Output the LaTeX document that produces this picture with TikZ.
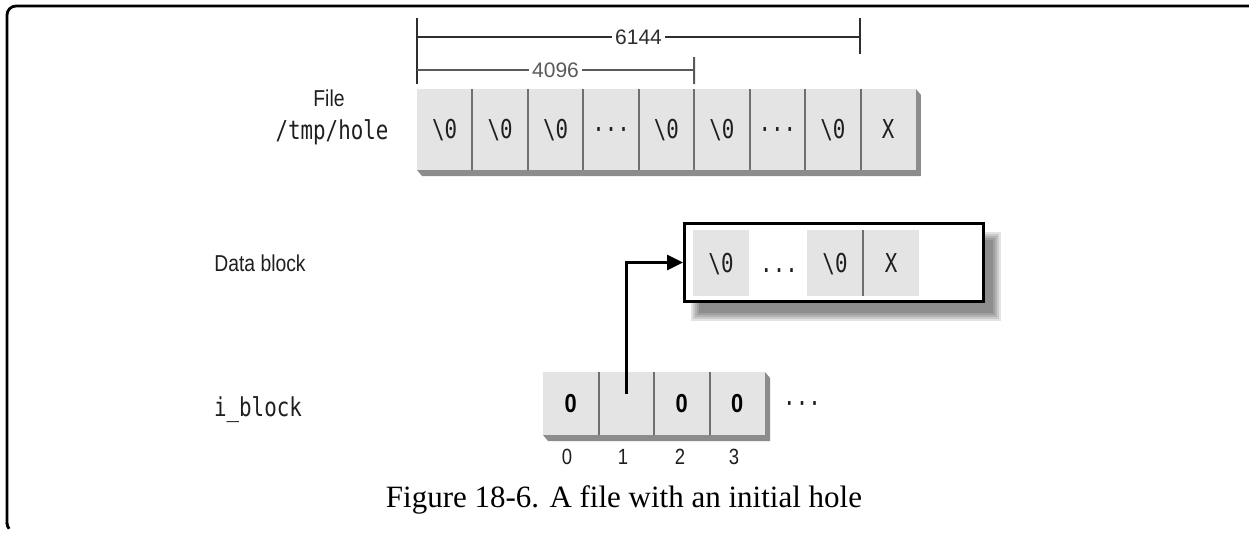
\documentclass[tikz,border=0pt]{standalone}
\usepackage{fontspec}
\setmainfont{Liberation Serif}
\newfontfamily\condf[FakeStretch=0.84]{Liberation Sans}
\newfontfamily\digf{Liberation Sans}
\newfontfamily\monof[FakeStretch=0.8]{DejaVu Sans Mono}
\usetikzlibrary{arrows.meta,calc}
\definecolor{cellgray}{HTML}{E4E4E4}
\definecolor{shadegray}{HTML}{8C8C8C}
\definecolor{divgray}{HTML}{707070}
\definecolor{dimdark}{HTML}{2E2E2E}
\definecolor{dimmid}{HTML}{5A5A5A}
\pgfdeclarelayer{bg}
\pgfsetlayers{bg,main}
\newcommand\cellshadow[2]{%
  \begin{pgfonlayer}{bg}
  \fill[shadegray] (#1.south west) -- ++(5,6) -| ($(#2.north east)+(5,6)$) -- (#2.north east) -- cycle;
  \end{pgfonlayer}}
\begin{document}
\begin{tikzpicture}[x=1pt,y=-1pt,
  monotext/.style={font=\monof\fontsize{26}{26}\selectfont, text=black!88, text height=19pt, text depth=1pt},
  cellbox/.style={monotext, fill=cellgray, minimum width=55.44pt, minimum height=81pt, inner sep=0pt, outer sep=0pt},
  dcell/.style={cellbox, minimum width=56pt, minimum height=66pt},
  icell/.style={cellbox, minimum width=55.5pt, minimum height=63pt, font=\condf\bfseries\fontsize{26}{26}\selectfont, text=black},
  divider/.style={draw=divgray, line width=2pt},
  dimline/.style={draw=dimdark, line width=2pt},
  dimlabel/.style={fill=white, inner sep=3pt, font=\digf\fontsize{21}{21}\selectfont, text=dimdark},
  sidelabel/.style={font=\condf\fontsize{23}{23}\selectfont, text=black!88},
  idxlabel/.style={font=\condf\fontsize{22}{22}\selectfont, text=black!88},
  pointer/.style={draw=black, line width=3pt, -{Triangle[length=16pt,width=15pt]}}]
\begin{pgfonlayer}{bg}
\fill[white] (0,0) rectangle (1249,539);
\end{pgfonlayer}
\useasboundingbox (0,0) rectangle (1249,539);

% frame
\draw[line width=2.8pt, rounded corners=9pt] (1249,6) -- (7,6) -- (7,524);
\draw[line width=2.8pt] (7,523) arc[start angle=180,end angle=140,radius=9];

% file row
\foreach \i in {1,...,9} {
  \node[cellbox] (f\i) at ({417+55.44*(\i-0.5)},129.5) {};
}
\node[monotext] at (f1) {\textbackslash 0};
\node[monotext] at (f2) {\textbackslash 0};
\node[monotext] at (f3) {\textbackslash 0};
\node[monotext] at (f4) {···};
\node[monotext] at (f5) {\textbackslash 0};
\node[monotext] at (f6) {\textbackslash 0};
\node[monotext] at (f7) {···};
\node[monotext] at (f8) {\textbackslash 0};
\node[monotext] at (f9) {X};
\cellshadow{f1}{f9}
\foreach \i in {1,...,8} {\draw[divider] (f\i.north east) -- (f\i.south east);}

\node[sidelabel] (filelab) at (329,98) {File};
\node[monotext] (holelab) at (332,130) {/tmp/hole};

% dimension lines
\coordinate (tl) at (417,18);
\coordinate (a0) at (417,37);
\coordinate (a1) at (860,37);
\coordinate (b0) at (417,70);
\coordinate (b1) at (694,70);
\draw[dimline] (tl) -- ($(f1.north west)+(0,-5)$);
\draw[dimline] (860,18) -- (860,54);
\draw[dimline, draw=dimmid] (694,57) -- ($(f5.north east)+(0,-5)$);
\draw[dimline] (a0) -- (a1) node[dimlabel, midway] (l6144) {6144};
\draw[dimline, draw=dimmid] (b0) -- (b1) node[dimlabel, midway, text=dimmid] (l4096) {4096};

% data block
\begin{pgfonlayer}{bg}
\foreach \k in {-4,-2,0,2,4} {
  \fill[black, opacity=0.11] (683+12+\k,222+14+\k) rectangle (985+12-\k,303+14-\k);
}
\end{pgfonlayer}
\node[draw=black, line width=3pt, fill=white, minimum width=299pt, minimum height=78pt, inner sep=0pt, outer sep=1.5pt] (dbox) at (834,262.5) {};
\node[dcell] (d1) at (721,263) {\textbackslash 0};
\node[monotext] (ddots) at (779,263) {...};
\node[dcell] (d2) at (835,263) {\textbackslash 0};
\node[dcell] (d3) at (891,263) {X};
\cellshadow{d1}{d1}
\cellshadow{d2}{d3}
\draw[divider] (d2.north east) -- (d2.south east);
\node[sidelabel] (datalab) at (260,263) {Data block};

% i_block
\node[icell] (i0) at (570.75,403.5) {0};
\node[icell] (i1) at (626.25,403.5) {};
\node[icell] (i2) at (681.75,403.5) {0};
\node[icell] (i3) at (737.25,403.5) {0};
\cellshadow{i0}{i3}
\foreach \i in {0,1,2} {\draw[divider] (i\i.north east) -- (i\i.south east);}
\node[monotext] (idots) at (802,403.5) {···};
\node[monotext] (iblab) at (258,407) {i\_block};
\node[idxlabel] at (567,457) {0};
\node[idxlabel] at (623,457) {1};
\node[idxlabel] at (680,457) {2};
\node[idxlabel] at (734,457) {3};

\draw[pointer] ([yshift=10pt]i1.center) |- (dbox.west);

% caption
\node[font=\fontsize{31}{31}\selectfont] (cap) at (624,500) {Figure 18-6. A file with an initial hole};
\end{tikzpicture}
\end{document}
